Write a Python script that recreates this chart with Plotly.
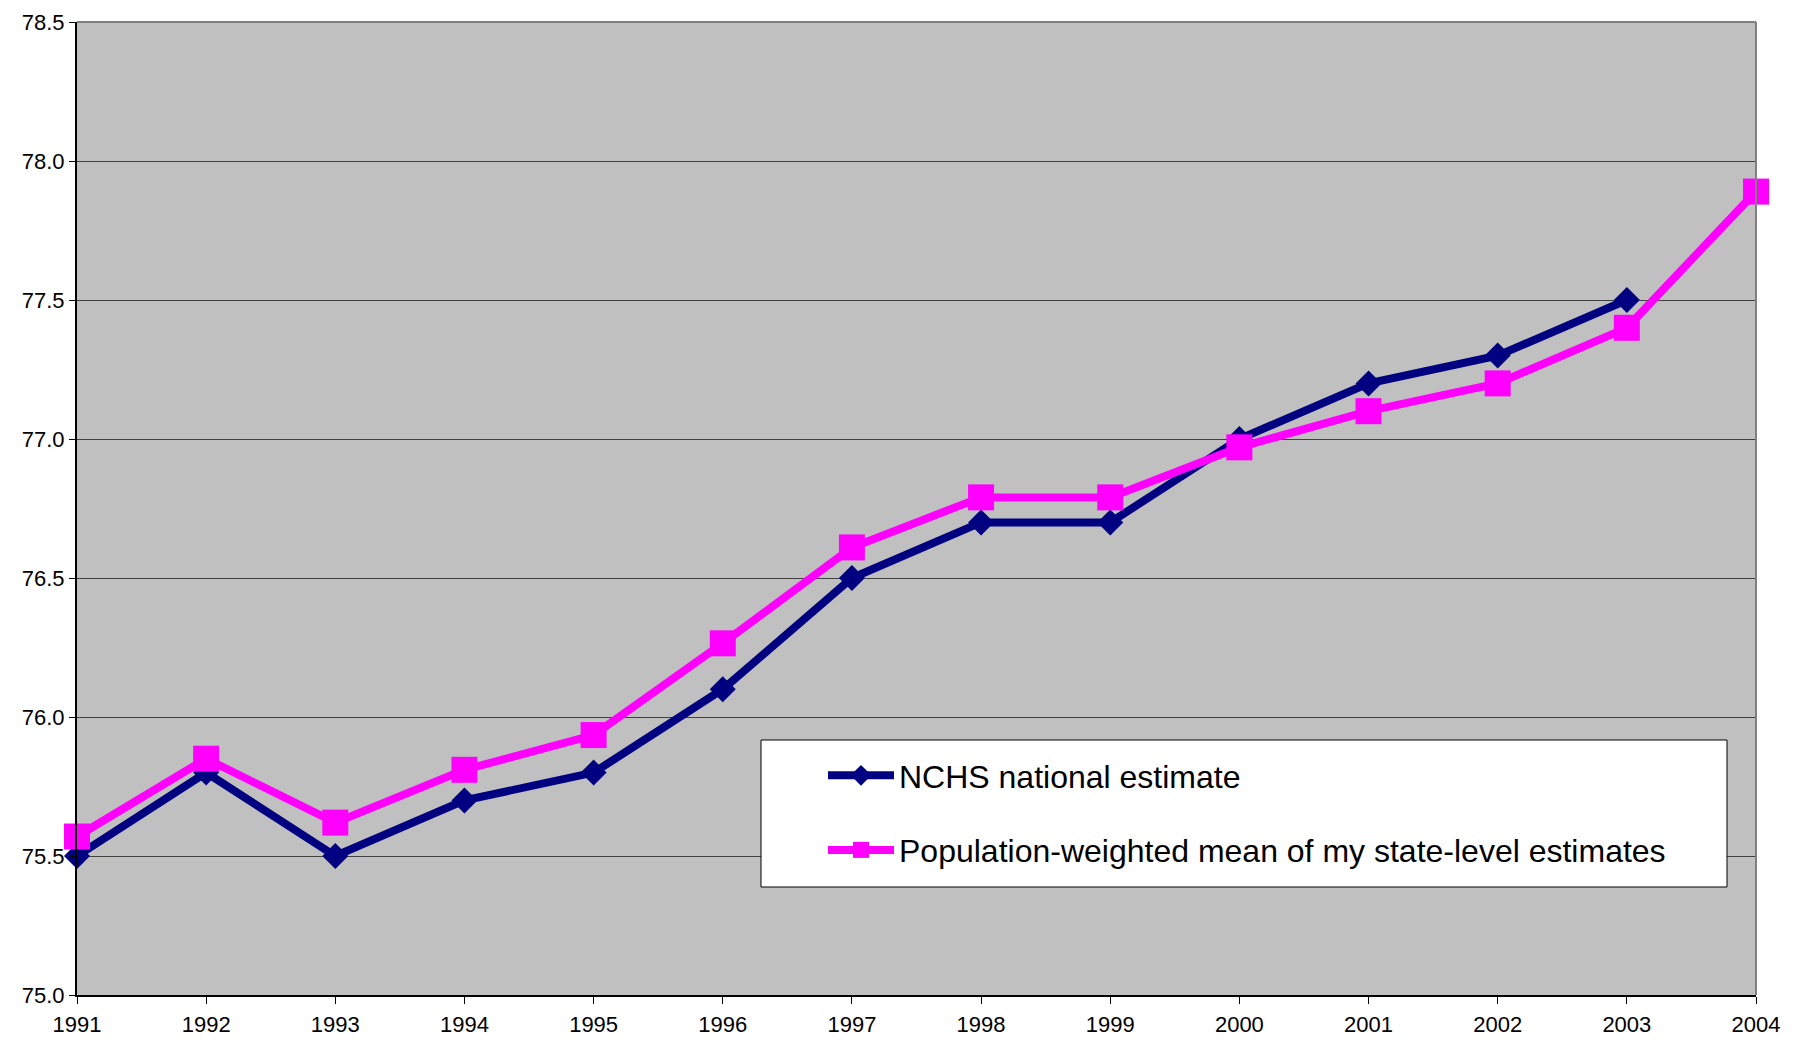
import plotly.graph_objects as go

years = list(range(1991, 2005))
nchs = [75.5, 75.8, 75.5, 75.7, 75.8, 76.1, 76.5, 76.7, 76.7, 77.0, 77.2, 77.3, 77.5, None]
pop_weighted = [75.57, 75.85, 75.62, 75.81, 75.935, 76.265, 76.61, 76.79, 76.79, 76.97, 77.10, 77.20, 77.40, 77.89]
y_ticks = [75.0, 75.5, 76.0, 76.5, 77.0, 77.5, 78.0, 78.5]

NAVY = "#000080"
PINK = "#FF00FF"

# plot area in page pixels (page body has an 8px margin)
PL, PR, PT, PB = 77, 1756, 22, 995


def px_x(x):
    return (x - PL) / (PR - PL)


def px_y(y):
    return (PB - y) / (PB - PT)


fig = go.Figure()
fig.add_trace(go.Scatter(
    x=years, y=nchs, mode="lines+markers", name="NCHS national estimate",
    legendgroup="a",
    line=dict(color=NAVY, width=8),
    marker=dict(symbol="diamond", size=20, color=NAVY),
    cliponaxis=False,
))
fig.add_trace(go.Scatter(
    x=years, y=pop_weighted, mode="lines+markers",
    name="Population-weighted mean of my state-level estimates",
    legendgroup="b",
    line=dict(color=PINK, width=8),
    marker=dict(symbol="square", size=26, color=PINK),
    cliponaxis=False,
))

fig.update_layout(
    width=1803, height=1038,
    margin=dict(l=PL - 8, r=1811 - PR, t=PT - 8, b=1046 - PB),
    paper_bgcolor="white",
    plot_bgcolor="#C0C0C0",
    font=dict(family="Liberation Sans, Arial, sans-serif", color="black", size=22),
    showlegend=True,
    legend=dict(
        x=px_x(823), y=px_y(748), xanchor="left", yanchor="top",
        bgcolor="rgba(0,0,0,0)", borderwidth=0,
        font=dict(size=32), itemwidth=66,
        traceorder="grouped", tracegroupgap=30,
    ),
)
fig.update_xaxes(
    range=[1991, 2004], tickmode="array", tickvals=years,
    ticktext=[str(y) for y in years],
    showgrid=False, zeroline=False, automargin=False,
    showline=True, linecolor="black", linewidth=2,
    ticks="outside", ticklen=7, tickcolor="black",
    tickfont=dict(size=22), ticklabelstandoff=2,
    ticklabeloverflow="allow",
)
fig.update_yaxes(
    range=[75.0, 78.5], tickmode="array", tickvals=y_ticks,
    ticktext=[f"{v:.1f}" for v in y_ticks],
    showgrid=True, gridcolor="#404040", gridwidth=1,
    zeroline=False, automargin=False,
    showline=True, linecolor="black", linewidth=2,
    ticks="outside", ticklen=6, tickcolor="black",
    tickfont=dict(size=22), ticklabeloverflow="allow",
)
# grey frame on top and right of the plot area
fig.add_shape(type="line", xref="paper", yref="paper", x0=0, x1=1, y0=1, y1=1,
              line=dict(color="#808080", width=2))
fig.add_shape(type="line", xref="paper", yref="paper", x0=1, x1=1, y0=0, y1=1,
              line=dict(color="#808080", width=2))
# legend box
fig.add_shape(type="rect", xref="paper", yref="paper", layer="above",
              x0=px_x(761), x1=px_x(1727), y0=px_y(887), y1=px_y(740),
              fillcolor="white", line=dict(color="black", width=1))

fig.write_html("out.html")
